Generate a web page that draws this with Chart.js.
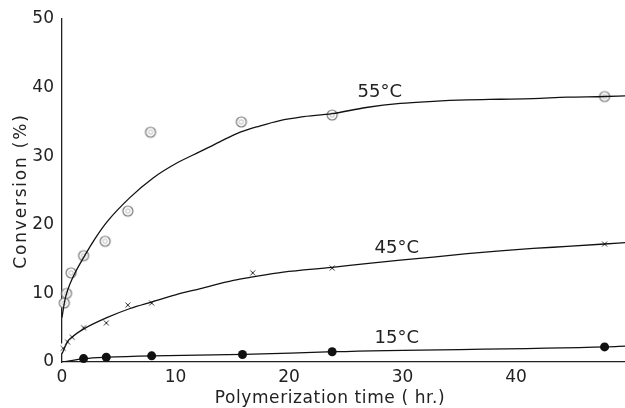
<!DOCTYPE html>
<html>
<head>
<meta charset="utf-8">
<script src="https://cdn.jsdelivr.net/npm/chart.js@4"></script>
<style>
  html, body { margin: 0; padding: 0; background: #fff; }
  #chart { display: block; }
</style>
</head>
<body>
<canvas id="chart" width="625" height="408"></canvas>
<script>
//Measured points (hr, %)
const t55 = [0.2, 0.4, 0.8, 1.9, 3.8, 5.8, 7.8, 15.8, 23.8, 47.8];
const c55 = [8.6, 10.0, 13.0, 15.5, 17.6, 22.0, 33.5, 35.0, 36.0, 38.7];
const t45 = [0.1, 0.5, 0.9, 1.9, 3.9, 5.8, 7.9, 16.8, 23.8, 47.8];
const c45 = [2.0, 2.9, 3.6, 5.0, 5.7, 8.3, 8.6, 13.0, 13.7, 17.2];
const t15 = [1.9, 3.9, 7.9, 15.9, 23.8, 47.8];
const c15 = [0.5, 0.7, 0.9, 1.1, 1.5, 2.2];

//Fitted curves
const fitT55 = [0, 0.25, 0.5, 1, 2, 3, 4, 6, 8, 10, 12.2, 13.9, 15.7, 17.4, 19.2, 21, 23.8, 26.8, 29.8, 32.7, 35.7, 38.6, 41.5, 44.5, 47.8, 49.6];
const fitC55 = [6.5, 9.0, 10.5, 12.5, 15.5, 18.2, 20.5, 24.0, 26.8, 28.9, 30.7, 32.1, 33.5, 34.4, 35.2, 35.7, 36.2, 37.1, 37.7, 38.0, 38.2, 38.3, 38.4, 38.6, 38.7, 38.8];
const fitT45 = [0, 0.5, 1, 2, 4, 6, 8, 10, 12.2, 15.1, 16.8, 19.5, 23.8, 26.8, 29.8, 32.7, 35.7, 38.6, 41.5, 44.5, 47.8, 49.6];
const fitC45 = [1.2, 3.0, 3.8, 4.9, 6.5, 7.8, 8.8, 9.8, 10.7, 11.9, 12.4, 13.1, 13.8, 14.35, 14.85, 15.3, 15.8, 16.2, 16.55, 16.85, 17.2, 17.4];
const fitT15 = [0, 2, 4, 8, 16, 24, 48, 49.6];
const fitC15 = [0, 0.5, 0.7, 0.9, 1.1, 1.5, 2.2, 2.3];

const xTicks = [0, 10, 20, 30, 40];
const yTicks = [0, 10, 20, 30, 40, 50];

const curveLabels = ['55°C', '45°C', '15°C'];
const labelX = [28, 29.5, 29.5];
const labelY = [39.3, 16.6, 3.4];

const xTitle = 'Polymerization time ( hr.)';
const yTitle = 'Conversion (%)';

const FONT = '"DejaVu Sans", sans-serif';
const INK = '#222';

function toXY(xs, ys) {
  return xs.map((x, i) => ({ x: x, y: ys[i] }));
}

//open circle with a small circle inside
function ringMarker() {
  const c = document.createElement('canvas');
  c.width = 14; c.height = 14;
  const g = c.getContext('2d');
  g.fillStyle = '#fff';
  g.strokeStyle = '#777';
  g.lineWidth = 1.2;
  g.beginPath(); g.arc(7, 7, 5, 0, Math.PI * 2); g.fill(); g.stroke();
  g.strokeStyle = '#aaa';
  g.lineWidth = 0.8;
  g.beginPath(); g.arc(7, 7, 2.2, 0, Math.PI * 2); g.stroke();
  return c;
}

//small x with a white gap around it
function crossMarker() {
  const c = document.createElement('canvas');
  c.width = 12; c.height = 12;
  const g = c.getContext('2d');
  g.fillStyle = '#fff';
  g.beginPath(); g.arc(6, 6, 5, 0, Math.PI * 2); g.fill();
  g.strokeStyle = '#333';
  g.lineWidth = 1;
  g.beginPath();
  g.moveTo(3.5, 3.5); g.lineTo(8.5, 8.5);
  g.moveTo(8.5, 3.5); g.lineTo(3.5, 8.5);
  g.stroke();
  return c;
}

//curve labels and axis titles
const chartText = {
  id: 'chartText',
  afterDraw(chart) {
    const { ctx, scales } = chart;
    ctx.save();
    ctx.fillStyle = INK;
    ctx.textAlign = 'center';
    ctx.textBaseline = 'middle';
    ctx.font = '18px ' + FONT;
    curveLabels.forEach((txt, i) => {
      ctx.fillText(txt, scales.x.getPixelForValue(labelX[i]), scales.y.getPixelForValue(labelY[i]));
    });
    ctx.font = '17px ' + FONT;
    ctx.letterSpacing = '0.6px';
    ctx.fillText(xTitle, 330, 399);
    ctx.translate(22, 191);
    ctx.rotate(-Math.PI / 2);
    ctx.letterSpacing = '1.8px';
    ctx.fillText(yTitle, 0, 0);
    ctx.restore();
  }
};

const lineStyle = {
  type: 'line',
  borderColor: '#111',
  borderWidth: 1.3,
  pointRadius: 0,
  fill: false,
  cubicInterpolationMode: 'monotone'
};

const ctx = document.getElementById('chart').getContext('2d');
new Chart(ctx, {
  type: 'scatter',
  data: {
    datasets: [
      Object.assign({ data: toXY(fitT55, fitC55) }, lineStyle),
      Object.assign({ data: toXY(fitT45, fitC45) }, lineStyle),
      Object.assign({ data: toXY(fitT15, fitC15) }, lineStyle),
      { data: toXY(t55, c55), pointStyle: ringMarker(), pointRadius: 6, clip: false },
      { data: toXY(t45, c45), pointStyle: crossMarker(), pointRadius: 5, clip: false },
      { data: toXY(t15, c15), pointStyle: 'circle', pointRadius: 4.5, backgroundColor: '#111', borderColor: '#111', borderWidth: 0, clip: false }
    ]
  },
  options: {
    responsive: false,
    animation: false,
    layout: { autoPadding: false, padding: { top: 19, right: 0, left: 0, bottom: 0 } },
    plugins: {
      legend: { display: false },
      tooltip: { enabled: false }
    },
    scales: {
      x: {
        type: 'linear',
        min: 0,
        max: 49.6,
        afterBuildTicks: (s) => { s.ticks = xTicks.map(v => ({ value: v })); },
        afterFit: (s) => { s.height = 46; },
        grid: { display: false, drawTicks: false },
        border: { color: '#222', width: 1.3 },
        ticks: { color: INK, font: { family: FONT, size: 17 }, padding: 5, maxRotation: 0 }
      },
      y: {
        type: 'linear',
        min: 0,
        max: 50,
        afterBuildTicks: (s) => { s.ticks = yTicks.map(v => ({ value: v })); },
        afterFit: (s) => { s.width = 62; },
        grid: { display: false, drawTicks: false },
        border: { color: '#222', width: 1.3 },
        ticks: { color: INK, font: { family: FONT, size: 17 }, padding: 8 }
      }
    }
  },
  plugins: [chartText]
});
</script>
</body>
</html>
